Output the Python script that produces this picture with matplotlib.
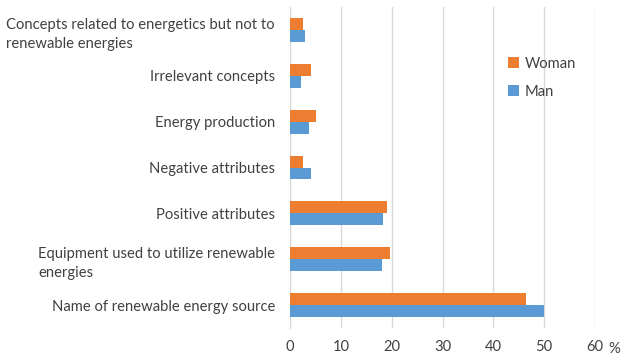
import numpy as np
import matplotlib.pyplot as plt

plt.rcParams['font.family'] = ['Lato', 'DejaVu Sans']

categories = [
    "Concepts related to energetics but not to\nrenewable energies",
    "Irrelevant concepts",
    "Energy production",
    "Negative attributes",
    "Positive attributes",
    "Equipment used to utilize renewable\nenergies",
    "Name of renewable energy source",
]
woman = [2.5, 4.1, 5.0, 2.5, 19.0, 19.7, 46.5]
man = [3.0, 2.2, 3.8, 4.1, 18.3, 18.1, 50.0]
xticks = [0, 10, 20, 30, 40, 50, 60]

text_color = "#404040"
grid_color = "#d9d9d9"
fs = 10.6

fig = plt.figure(figsize=(6.24, 3.6), dpi=100)
ax = fig.add_axes([0.465, 0.089, 0.4885, 0.891])

y = np.arange(len(categories))
h = 0.26
ax.barh(y - h / 2, woman, height=h, color="#ED7D31", label="Woman", zorder=3)
ax.barh(y + h / 2, man, height=h, color="#5B9BD5", label="Man", zorder=3)

ax.set_xlim(0, 60)
ax.set_ylim(len(categories) - 0.5, -0.5)
ax.set_xticks(xticks)
ax.set_xticklabels([str(t) for t in xticks])
ax.set_yticks(y)
ax.set_yticklabels(categories)
for lab in ax.get_yticklabels():
    lab.set_multialignment("left")
    lab.set_linespacing(1.45)

ax.xaxis.grid(True, color=grid_color, linewidth=1, zorder=0)
for s in ["top", "right", "bottom"]:
    ax.spines[s].set_visible(False)
ax.spines["left"].set_color(grid_color)
ax.tick_params(axis="both", length=0, labelsize=fs, colors=text_color)
ax.tick_params(axis="x", pad=9)
ax.tick_params(axis="y", pad=11)

fig.text(0.984, 0.03, "%", fontsize=fs, color=text_color, ha="center", va="center")

fig.legend(loc="upper left", bbox_to_anchor=(0.802, 0.863), frameon=False,
           borderpad=0, handlelength=0.75, handleheight=0.75, handletextpad=0.4,
           labelspacing=0.95, prop={"size": fs}, labelcolor=text_color)

fig.savefig("out.png", dpi=100)
